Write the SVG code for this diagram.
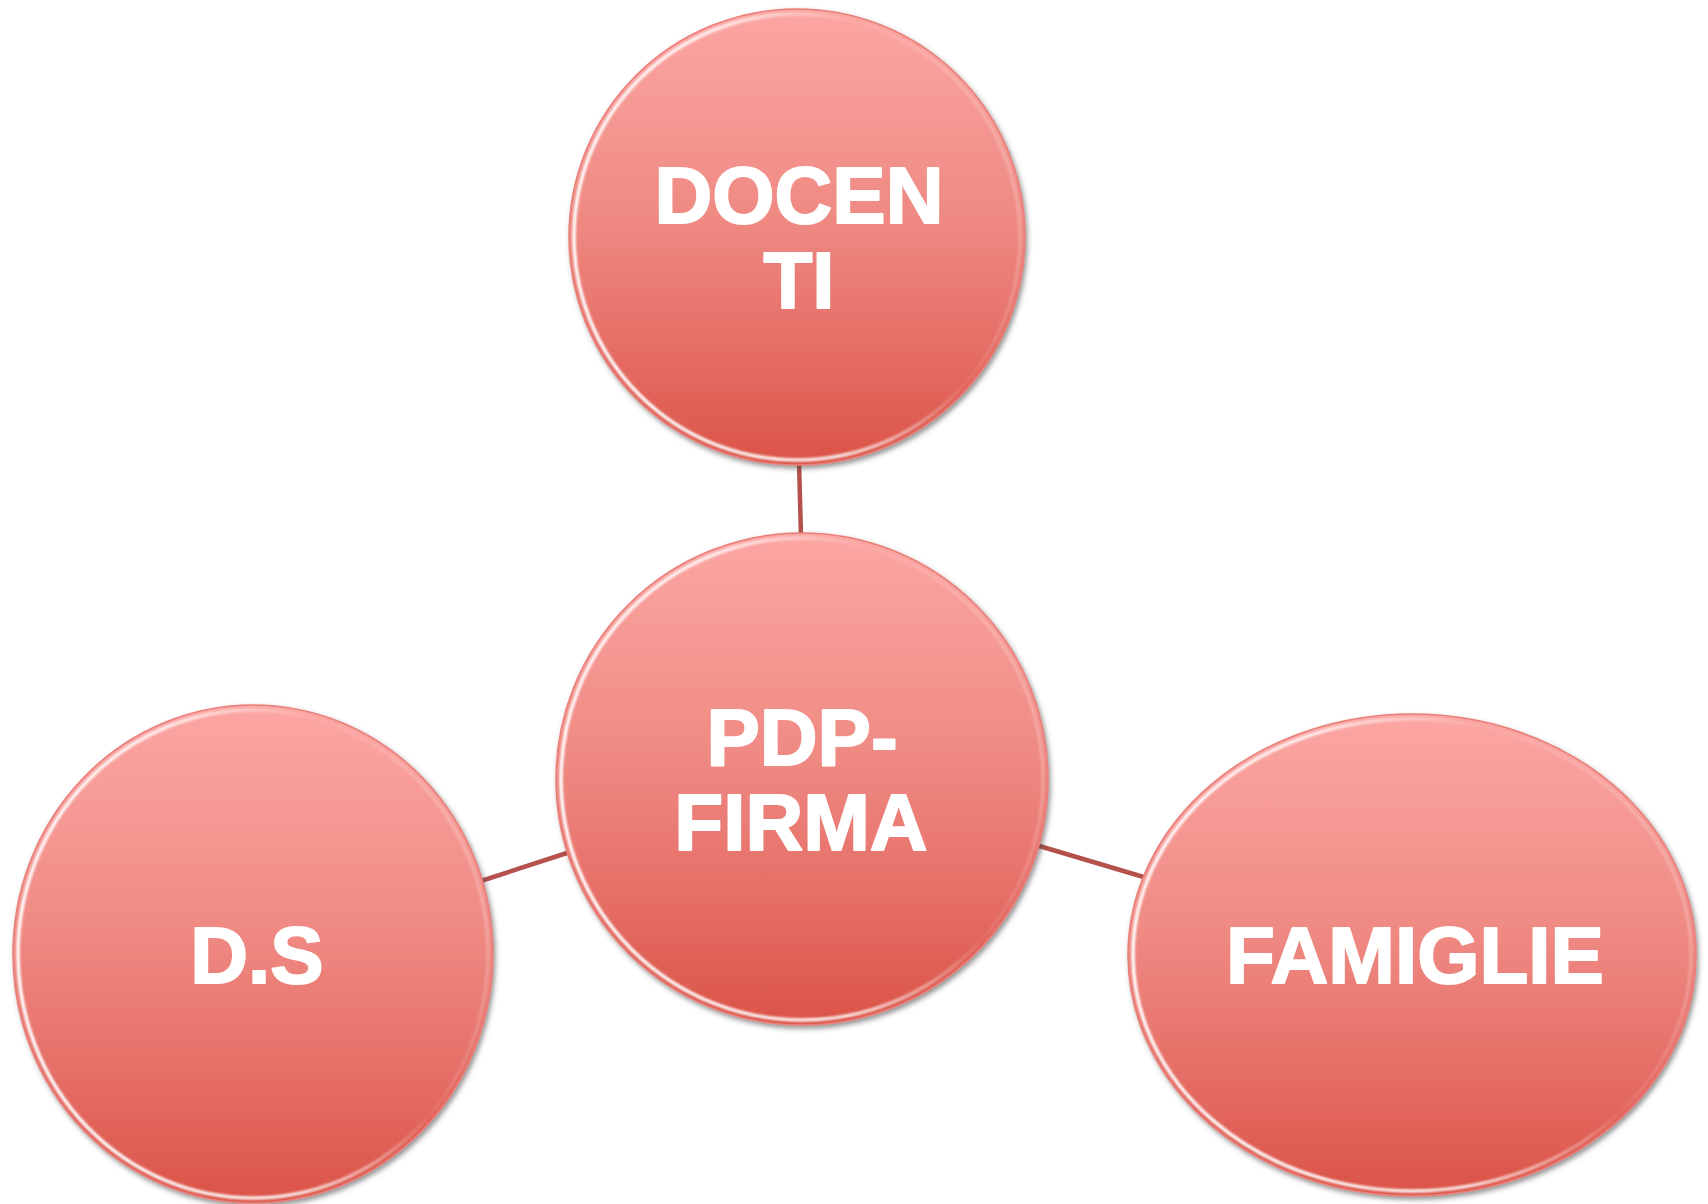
<svg xmlns="http://www.w3.org/2000/svg" width="1708" height="1204" viewBox="0 0 1708 1204">
  <defs>
    <!-- vertical body shading of each bubble -->
    <linearGradient id="bodyFill" x1="0" y1="0" x2="0" y2="1">
      <stop offset="0" stop-color="#fca6a3"/>
      <stop offset="0.45" stop-color="#ef8a83"/>
      <stop offset="0.75" stop-color="#e56d65"/>
      <stop offset="1" stop-color="#db5347"/>
    </linearGradient>
    <!-- glossy rim: bright on the left and top, fading towards the right -->
    <linearGradient id="rimGloss" x1="0" y1="0.65" x2="1" y2="0.35">
      <stop offset="0" stop-color="#ffffff" stop-opacity="1"/>
      <stop offset="0.45" stop-color="#ffffff" stop-opacity="0.85"/>
      <stop offset="0.75" stop-color="#ffffff" stop-opacity="0.05"/>
      <stop offset="1" stop-color="#ffffff" stop-opacity="0.25"/>
    </linearGradient>
    <filter id="shadow" x="-10%" y="-10%" width="120%" height="120%">
      <feDropShadow dx="2" dy="3" stdDeviation="2.5" flood-color="#404040" flood-opacity="0.55"/>
    </filter>
    <filter id="soft" x="-5%" y="-5%" width="110%" height="110%">
      <feGaussianBlur stdDeviation="1.2"/>
    </filter>
  </defs>
  <style>
    .body { fill: url(#bodyFill); stroke: #ea7f79; stroke-width: 1.5; filter: url(#shadow); }
    .rim { fill: none; stroke: url(#rimGloss); stroke-width: 3.5; filter: url(#soft); }
    .label { font-family: "Liberation Sans", Arial, sans-serif; font-weight: bold; font-size: 80px; fill: #ffffff; stroke: #ffffff; stroke-width: 2; stroke-linejoin: round; stroke-linecap: round; text-anchor: middle; }
    .link { stroke: #b4514d; stroke-width: 4.5; fill: none; }
  </style>

  <rect width="1708" height="1204" fill="#ffffff"/>

  <!-- connectors -->
  <g id="connectors">
    <line class="link" x1="799" y1="462" x2="801" y2="536"/>
    <line class="link" x1="481" y1="881" x2="570" y2="852"/>
    <line class="link" x1="1036" y1="845" x2="1147" y2="878"/>
  </g>

  <!-- DOCENTI -->
  <g id="node-docenti">
    <ellipse class="body" cx="797" cy="237" rx="228" ry="228"/>
    <ellipse class="rim" cx="797" cy="237" rx="223" ry="223"/>
    <text class="label" x="799" y="223">DOCEN</text>
    <text class="label" x="799" y="308">TI</text>
  </g>

  <!-- PDP-FIRMA -->
  <g id="node-pdp-firma">
    <ellipse class="body" cx="802" cy="779" rx="246" ry="246"/>
    <ellipse class="rim" cx="802" cy="779" rx="241" ry="241"/>
    <text class="label" x="802" y="765">PDP-</text>
    <text class="label" x="801" y="850">FIRMA</text>
  </g>

  <!-- D.S -->
  <g id="node-ds">
    <ellipse class="body" cx="253" cy="954" rx="240" ry="249"/>
    <ellipse class="rim" cx="253" cy="954" rx="235" ry="244"/>
    <text class="label" x="257" y="983">D.S</text>
  </g>

  <!-- FAMIGLIE -->
  <g id="node-famiglie">
    <ellipse class="body" cx="1412" cy="955" rx="284" ry="241"/>
    <ellipse class="rim" cx="1412" cy="955" rx="279" ry="236"/>
    <text class="label" x="1415" y="983">FAMIGLIE</text>
  </g>
</svg>
